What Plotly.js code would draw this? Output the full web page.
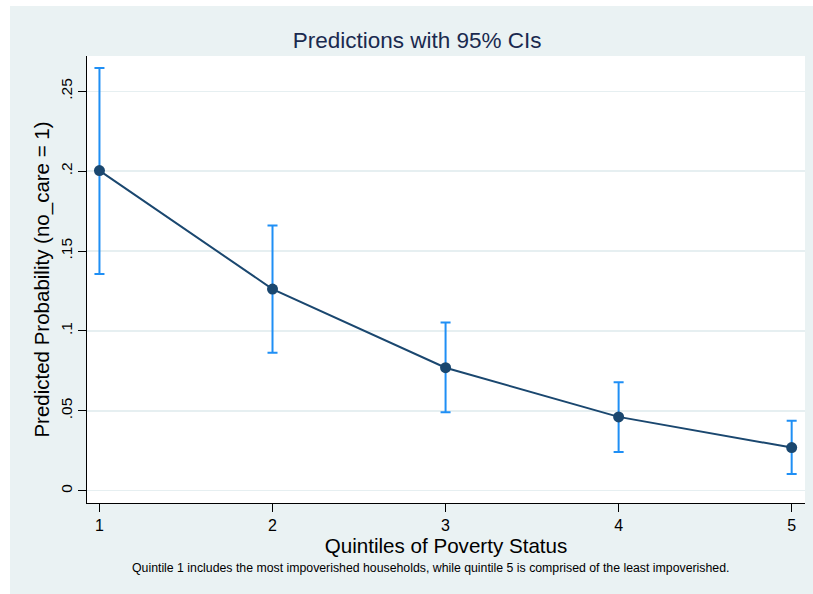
<!DOCTYPE html>
<html>
<head>
<meta charset="utf-8">
<script src="https://cdn.plot.ly/plotly-3.0.1.min.js"></script>
<style>
  html, body { margin: 0; padding: 0; background: #ffffff; }
  #chart { position: absolute; left: 10px; top: 6px; width: 803px; height: 588px; }
</style>
</head>
<body>
<div id="chart"></div>
<script>
// Data
const quintiles = [1, 2, 3, 4, 5];
const predicted = [0.2004, 0.1262, 0.0770, 0.0462, 0.0270];
const ciUpper   = [0.2646, 0.1660, 0.1053, 0.0679, 0.0438];
const ciLower   = [0.1357, 0.0864, 0.0491, 0.0243, 0.0105];
const yTickVals = [0, 0.05, 0.1, 0.15, 0.2, 0.25];
const yTickText = ['0', '.05', '.1', '.15', '.2', '.25'];
const xTickVals = [1, 2, 3, 4, 5];

const FONT = 'Liberation Sans, Arial, Helvetica, sans-serif';
const navy = '#1a476f';
const ciBlue = '#1f8ff5';

const errPlus = predicted.map((p, i) => ciUpper[i] - p);
const errMinus = predicted.map((p, i) => p - ciLower[i]);

const ciTrace = {
  x: quintiles, y: predicted, type: 'scatter', mode: 'none',
  error_y: { type: 'data', symmetric: false, array: errPlus, arrayminus: errMinus,
             color: ciBlue, thickness: 2, width: 5 },
  hoverinfo: 'skip', showlegend: false
};
const lineTrace = {
  x: quintiles, y: predicted, type: 'scatter', mode: 'lines+markers',
  line: { color: navy, width: 2 },
  marker: { color: navy, size: 11 },
  showlegend: false
};

const layout = {
  width: 803, height: 588,
  paper_bgcolor: '#eaf2f3', plot_bgcolor: '#ffffff',
  margin: { l: 77, r: 8, t: 50, b: 91 },
  font: { family: FONT, color: '#000000' },
  title: { text: 'Predictions with 95% CIs', xref: 'container', x: 0.507, xanchor: 'center',
           yref: 'container', y: 1 - 34/588, yanchor: 'middle',
           font: { family: FONT, size: 22.5, color: '#1a2a4f' } },
  xaxis: {
    range: [0.928, 5.077], tickvals: xTickVals, ticktext: xTickVals.map(String),
    showgrid: false, zeroline: false,
    showline: true, linecolor: '#000000', linewidth: 1,
    ticks: 'outside', ticklen: 8, tickcolor: '#000000', tickwidth: 1,
    tickfont: { family: FONT, size: 16 },
    title: { text: 'Quintiles of Poverty Status', font: { family: FONT, size: 20.6 }, standoff: 1 },
    automargin: false
  },
  yaxis: {
    range: [-0.0077, 0.2721], tickvals: yTickVals, ticktext: yTickText,
    tickangle: -90,
    showgrid: true, gridcolor: '#e6eff1', gridwidth: 1.5, zeroline: false,
    showline: true, linecolor: '#000000', linewidth: 1,
    ticks: 'outside', ticklen: 8, tickcolor: '#000000', tickwidth: 1,
    tickfont: { family: FONT, size: 15.5 },
    title: { text: 'Predicted Probability (no_care = 1)', font: { family: FONT, size: 20.5 }, standoff: 2 },
    automargin: false
  },
  annotations: [{
    text: 'Quintile 1 includes the most impoverished households, while quintile 5 is comprised of the least impoverished.',
    xref: 'paper', yref: 'paper', x: (420 - 77) / 718, y: (497 - 562) / 447,
    xanchor: 'center', yanchor: 'middle', showarrow: false,
    font: { family: FONT, size: 12.3, color: '#000000' }
  }]
};

Plotly.newPlot('chart', [ciTrace, lineTrace], layout, { displayModeBar: false, staticPlot: true });
</script>
</body>
</html>
